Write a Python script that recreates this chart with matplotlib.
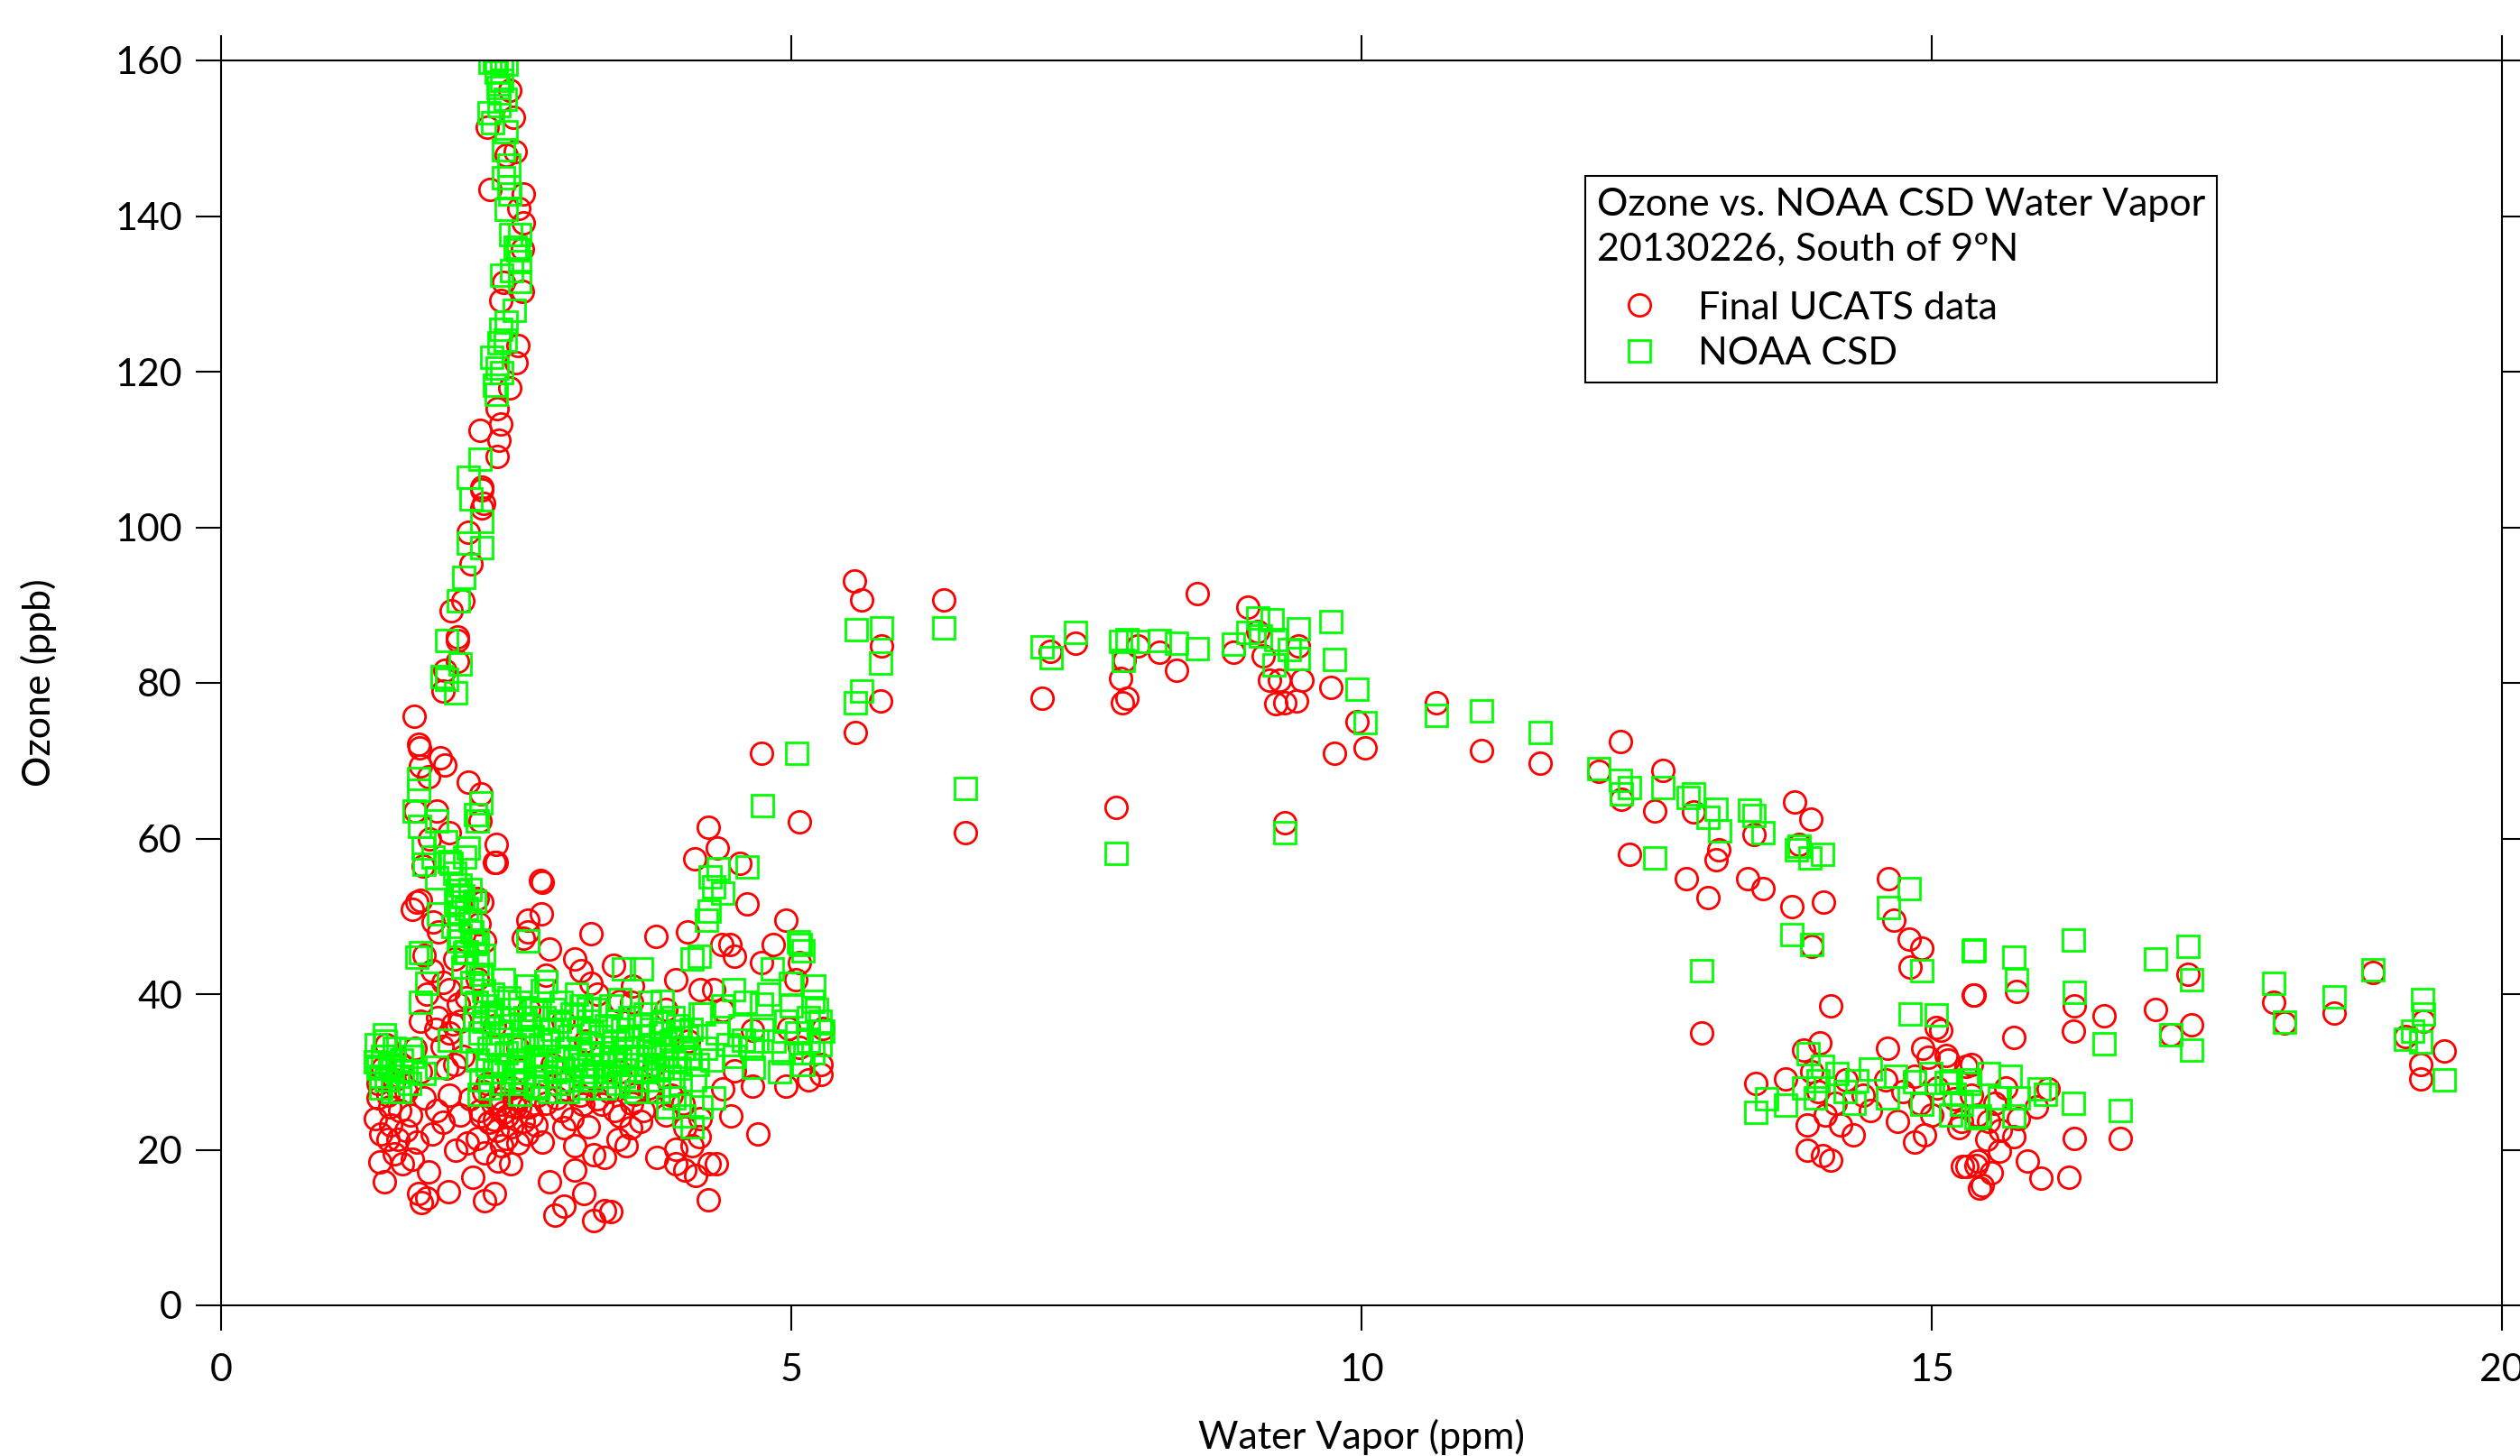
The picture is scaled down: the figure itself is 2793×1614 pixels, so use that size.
import numpy as np
import matplotlib
matplotlib.use("Agg")
import matplotlib.pyplot as plt

plt.rcParams["font.family"] = ["Lato", "DejaVu Sans"]

# ---- Final UCATS data (water vapor ppm, ozone ppb) ----
ucats_spike = [
    (2.53, 156.2), (2.56, 152.7), (2.33, 151.4), (2.58, 148.3), (2.50, 147.8), (2.36, 143.4),
    (2.65, 142.8), (2.61, 141.0), (2.65, 139.1), (2.64, 135.8), (2.48, 131.5), (2.45, 129.2),
    (2.64, 130.3), (2.60, 123.4), (2.59, 121.2), (2.53, 117.9), (2.42, 115.2), (2.27, 112.5),
    (2.45, 113.3), (2.44, 111.2), (2.42, 109.1), (2.29, 105.2), (2.30, 103.1),
    (2.29, 104.8), (2.29, 102.5), (2.17, 99.4), (2.19, 95.3), (2.12, 90.5), (2.02, 89.3),
    (2.07, 85.9), (2.07, 85.5), (2.07, 82.8), (1.96, 81.6), (1.95, 78.9), (1.69, 75.7),
    (1.73, 72.1), (1.74, 71.6), (1.92, 70.4), (1.96, 69.5), (1.75, 69.3), (1.82, 67.9),
    (2.17, 67.3), (2.28, 65.7), (2.27, 62.3), (1.89, 63.5), (1.70, 63.5), (2.00, 60.8),
    (2.41, 59.2), (2.40, 56.9), (1.77, 56.5), (1.83, 60.0), (2.82, 54.4), (1.75, 52.1),
    (2.25, 52.3),
]
ucats_low = [
    (2.41, 56.9), (2.80, 54.6), (2.81, 50.3), (2.69, 49.5), (2.69, 48.0), (2.88, 45.8),
    (3.24, 47.8), (3.81, 47.4), (4.15, 57.4), (4.61, 51.6), (4.95, 49.5), (4.09, 48.0),
    (4.39, 46.4), (4.50, 44.9), (4.84, 46.4), (4.74, 44.1), (5.07, 44.1), (5.04, 41.8),
    (4.20, 40.6), (3.99, 41.8), (4.40, 37.9), (4.98, 35.6), (5.28, 35.6), (4.66, 35.4),
    (4.32, 40.6), (4.46, 46.4),
    (1.72, 51.8), (1.68, 50.9), (1.86, 49.3), (2.29, 51.8), (2.26, 49.1), (2.31, 46.8),
    (1.91, 48.0), (2.00, 40.6), (2.03, 36.2), (2.08, 38.7), (1.94, 33.3), (2.65, 47.2),
    (2.85, 42.4), (3.10, 44.5), (3.16, 43.0), (3.24, 41.4), (3.44, 43.7), (3.50, 39.1),
    (3.61, 41.0),
    (1.38, 26.7), (1.35, 24.0), (1.49, 23.2), (1.57, 25.1), (1.46, 21.3), (1.55, 21.3),
    (1.39, 18.4), (1.43, 15.9), (1.59, 18.2), (1.68, 18.8), (1.82, 17.2), (1.89, 25.1),
    (1.78, 26.7), (1.73, 14.4), (1.80, 13.8), (1.76, 13.2), (1.99, 14.6), (2.06, 19.9),
    (2.16, 20.9), (2.21, 16.5), (2.31, 13.4), (2.40, 14.4), (2.31, 19.6), (2.43, 18.6),
    (2.54, 18.2), (2.60, 20.9), (2.28, 24.3), (2.40, 23.9), (2.51, 24.3), (2.65, 23.6),
    (2.76, 23.2), (2.88, 15.9), (2.93, 11.6), (3.01, 12.8), (3.10, 17.4), (3.18, 14.4),
    (3.27, 10.9), (3.36, 12.2), (3.42, 12.1), (3.01, 22.8), (3.10, 20.5), (3.27, 19.4),
    (3.36, 19.0), (3.48, 21.3), (3.55, 20.5), (3.59, 22.8), (3.50, 24.3), (3.68, 23.6),
    (3.82, 19.0), (3.99, 18.2), (4.07, 17.4), (4.16, 16.7), (4.27, 13.6), (3.99, 20.1),
    (4.13, 20.5), (4.19, 21.7), (4.28, 18.2), (4.34, 18.2), (4.07, 22.8), (4.47, 24.3),
    (4.71, 22.0), (4.40, 27.8), (4.66, 28.2), (4.95, 28.2), (5.15, 29.0), (5.26, 29.7),
    (4.50, 30.1), (3.76, 27.5), (3.62, 27.1), (3.34, 25.9), (3.17, 25.9), (2.94, 26.7),
    (2.72, 24.3), (2.58, 25.5), (2.45, 25.9), (2.27, 25.1),
    (2.30, 27.5), (2.45, 26.5), (2.55, 28.0), (2.70, 25.5), (2.85, 26.0), (3.00, 28.5),
    (3.15, 27.0), (3.30, 26.5), (3.45, 25.0), (3.60, 26.0), (3.75, 28.0), (3.90, 24.5),
    (4.05, 26.0), (2.60, 33.0), (2.90, 31.0), (3.20, 34.0), (3.50, 30.0), (3.80, 31.0),
    (2.40, 36.0), (2.70, 38.0), (3.00, 36.5), (3.30, 40.0), (3.60, 39.0), (3.90, 38.0),
    (4.10, 34.0), (2.35, 23.5), (2.42, 22.5), (2.48, 24.8), (2.55, 23.0), (2.62, 25.5),
    (2.38, 26.0), (2.50, 21.5),
    (1.38, 28.5), (1.42, 30.5), (1.46, 27.0), (1.52, 29.0), (1.58, 31.0), (1.62, 27.5),
    (1.70, 33.0), (1.45, 33.5), (1.75, 30.0),
    (1.78, 45.0), (1.85, 43.0), (1.95, 41.5), (2.05, 44.5), (2.15, 39.5), (2.25, 42.0),
    (1.90, 37.0), (2.00, 35.0), (2.10, 36.5), (1.80, 40.0),
    (4.27, 61.5), (4.35, 58.8), (4.55, 56.8), (4.74, 70.9), (5.07, 33.2), (5.26, 31.0),
    (1.40, 22.0), (1.48, 25.5), (1.52, 19.5), (1.62, 22.5), (1.66, 24.5), (1.72, 21.0),
    (1.85, 22.0), (1.95, 23.5), (2.00, 27.0), (2.10, 24.5), (2.18, 26.5), (2.25, 21.5),
    (2.33, 28.5), (2.46, 20.5), (2.58, 26.5), (2.68, 22.0), (2.78, 27.0), (2.82, 21.0),
    (2.98, 25.0), (3.08, 24.0), (3.22, 23.0), (3.40, 27.5), (3.70, 25.0), (3.95, 27.0),
    (4.20, 24.0), (1.98, 30.5), (2.12, 32.0), (1.88, 35.5), (1.75, 36.5), (2.05, 31.0),
]
ucats_mid = [
    (5.55, 93.1), (5.62, 90.7), (6.34, 90.7), (5.79, 84.7), (5.78, 77.7), (5.56, 73.6),
    (5.07, 62.2), (6.53, 60.7), (7.20, 78.0), (7.27, 84.1), (7.49, 85.1), (7.89, 80.6),
    (7.90, 77.5), (7.94, 78.0), (7.92, 82.9), (8.04, 84.7), (8.23, 83.9), (8.38, 81.6),
    (8.56, 91.5), (9.00, 89.7), (9.09, 86.6), (9.14, 83.5), (9.19, 80.4), (9.28, 80.4),
    (9.25, 77.3), (9.33, 77.5), (9.43, 77.7), (9.48, 80.4), (9.45, 84.7), (8.88, 83.9),
    (9.73, 79.4), (9.96, 75.0), (9.76, 70.9), (10.03, 71.6), (7.85, 64.0), (9.33, 62.0),
]
ucats_high = [
    (10.66, 77.4), (11.05, 71.3), (11.57, 69.7), (12.27, 72.5), (12.08, 68.6), (12.28, 65.1),
    (12.64, 68.8), (12.57, 63.5), (12.91, 63.4), (13.13, 58.6), (13.11, 57.3), (12.35, 58.0),
    (12.85, 54.8), (13.04, 52.4), (13.39, 54.8), (13.52, 53.6), (13.77, 51.3), (14.05, 51.8),
    (13.80, 64.7), (13.94, 62.5), (13.84, 59.3), (13.44, 60.5), (12.98, 35.0), (14.62, 54.8),
    (14.67, 49.5), (14.80, 47.1), (14.91, 45.9), (14.81, 43.5), (15.36, 39.9), (13.95, 46.1),
    (14.11, 38.5), (14.02, 33.7), (13.88, 32.8), (14.61, 33.1), (14.92, 33.1), (15.04, 35.7),
    (13.46, 28.5), (13.72, 29.1), (13.91, 23.2), (13.91, 20.0), (14.11, 18.7), (14.04, 19.3),
    (14.31, 21.9), (14.20, 23.2), (14.07, 24.5), (14.46, 25.0), (14.70, 23.6), (14.85, 21.0),
    (14.94, 21.9), (15.24, 22.8), (15.27, 17.8), (15.39, 18.0), (15.44, 15.4), (15.30, 30.7),
    (15.14, 31.5), (14.97, 31.9),
    (15.37, 39.9), (15.74, 40.4), (15.72, 34.4), (16.25, 38.5), (16.24, 35.3), (16.51, 37.2),
    (16.96, 38.0), (17.25, 42.6), (17.28, 36.1), (17.10, 34.8), (18.00, 38.9), (18.09, 36.3),
    (18.53, 37.6), (18.87, 42.8), (19.31, 36.5), (19.15, 34.6), (19.49, 32.7), (19.29, 31.0),
    (19.29, 29.1), (16.25, 21.5), (16.65, 21.5), (16.20, 16.5), (15.96, 16.4), (15.84, 18.6),
    (15.42, 15.1), (15.31, 17.8), (16.02, 27.8), (15.08, 35.4),
    (15.13, 32.1), (15.35, 30.9), (15.26, 23.6), (15.48, 21.3), (15.72, 21.7), (15.59, 19.8),
    (15.40, 18.6), (15.52, 17.1), (15.92, 25.5), (15.76, 24.0), (15.50, 23.6),
    (14.75, 27.5), (14.90, 26.0), (15.05, 28.0), (15.20, 26.5), (15.35, 27.0), (15.55, 26.0),
    (15.65, 28.0), (14.60, 29.0), (14.85, 29.5), (15.00, 24.5), (15.40, 24.5), (15.60, 22.5),
    (14.40, 27.0), (14.15, 26.0), (14.00, 27.5), (14.25, 29.0), (13.95, 30.0),
]

# ---- NOAA CSD ----
csd_spike = [
    (2.36, 159.8), (2.46, 159.7), (2.41, 158.5), (2.46, 157.4), (2.44, 155.8), (2.35, 153.3),
    (2.44, 154.2), (2.49, 155.0), (2.50, 150.8), (2.48, 148.5), (2.48, 144.9), (2.52, 143.8),
    (2.53, 142.8), (2.50, 140.9), (2.54, 137.6), (2.62, 137.6), (2.60, 135.7), (2.62, 134.1),
    (2.46, 132.4), (2.62, 131.6), (2.57, 127.9), (2.50, 126.4), (2.49, 124.1), (2.44, 123.7),
    (2.37, 121.8), (2.46, 119.9), (2.40, 118.3), (2.41, 117.1), (2.27, 108.7), (2.17, 106.4),
    (2.19, 103.7), (2.40, 160.0), (2.50, 159.5), (2.43, 156.5), (2.38, 152.0), (2.52, 146.5),
    (2.58, 136.0), (2.55, 133.0), (2.45, 125.5), (2.42, 120.5),
    (2.29, 100.7), (2.17, 98.0), (2.29, 97.4), (2.13, 93.6), (2.08, 90.5), (1.98, 85.4),
    (2.10, 82.4), (1.94, 80.8), (1.98, 80.5), (2.06, 78.7), (1.73, 67.7), (1.73, 66.2),
    (1.69, 63.5), (2.28, 64.6), (2.23, 63.1), (2.25, 62.3), (1.74, 61.6), (1.89, 62.3),
    (2.17, 58.8), (1.77, 58.8), (1.86, 57.6), (1.97, 59.6), (2.02, 56.8), (1.89, 54.9),
    (2.07, 53.3), (2.12, 52.6),
]
csd_low = [
    (1.78, 56.7), (2.00, 57.0), (2.14, 57.6), (4.36, 56.1), (4.61, 56.3), (4.32, 53.8),
    (4.40, 53.0), (4.28, 50.7), (4.26, 49.5), (1.75, 45.3), (1.75, 38.9), (1.80, 41.4),
    (1.72, 44.7), (2.69, 46.8), (2.03, 48.7), (2.08, 46.8), (2.06, 51.8), (1.91, 50.3),
    (2.14, 45.3), (2.85, 41.6), (2.48, 41.8), (3.22, 38.1), (3.53, 43.3), (3.69, 43.3),
    (3.50, 39.3), (3.76, 38.9), (3.87, 39.1), (4.13, 44.5), (4.19, 44.9), (4.23, 37.5),
    (4.49, 40.6), (4.74, 38.7), (4.83, 43.3), (5.08, 46.4), (5.10, 45.6), (4.99, 41.4),
    (5.19, 39.1), (5.28, 35.2), (5.19, 32.5), (5.08, 32.5), (4.93, 32.5), (4.67, 30.6),
    (4.58, 34.1), (1.43, 34.8), (1.35, 31.3), (1.40, 29.4), (1.50, 30.6), (1.57, 27.5),
    (1.66, 32.9), (1.78, 29.8), (2.00, 34.1), (1.89, 30.6), (2.26, 27.1), (2.62, 27.1),
    (2.75, 28.2), (3.04, 27.5), (3.24, 29.0), (3.59, 28.2), (3.87, 30.6), (3.97, 26.7),
    (4.06, 24.4), (4.13, 22.9), (4.21, 25.5), (4.32, 26.7), (3.92, 25.5), (3.80, 32.5),
    (4.03, 35.2), (4.08, 34.4), (4.20, 37.5),
    (2.20, 34.0), (2.25, 31.5), (2.30, 36.5), (2.35, 33.0), (2.40, 30.0), (2.45, 35.0),
    (2.50, 32.5), (2.55, 38.0), (2.60, 30.5), (2.65, 34.0), (2.70, 36.0), (2.75, 31.0),
    (2.80, 33.5), (2.85, 29.5), (2.90, 35.5), (2.95, 32.0), (3.00, 30.5), (3.05, 34.5),
    (3.10, 31.5), (3.15, 33.0), (3.20, 29.5), (3.25, 35.0), (3.30, 31.0), (3.35, 32.5),
    (3.40, 30.0), (3.45, 34.0), (3.50, 31.5), (3.55, 33.0), (3.60, 29.0), (3.65, 32.0),
    (3.70, 34.5), (3.75, 31.0), (3.80, 33.5), (3.85, 35.0), (3.90, 32.0), (3.95, 34.0),
    (4.00, 36.0), (4.05, 33.0), (2.32, 38.5), (2.48, 28.5), (2.62, 39.0), (2.78, 28.0),
    (2.92, 38.0), (3.08, 37.5), (3.22, 36.5), (3.38, 36.0), (3.52, 35.5), (2.28, 29.0),
    (2.58, 29.0), (2.88, 27.5), (3.18, 28.0), (3.48, 28.5), (3.78, 29.0), (2.38, 40.0),
    (2.52, 39.5), (2.68, 41.0), (2.82, 40.5), (2.98, 39.0), (3.12, 40.0), (3.28, 38.0),
    (3.42, 38.5), (3.58, 37.0), (3.72, 37.5), (3.88, 36.5), (4.02, 30.5), (4.10, 32.0),
    (4.15, 29.0),
    (1.38, 30.5), (1.42, 32.0), (1.45, 29.0), (1.48, 31.0), (1.52, 33.0), (1.55, 29.5),
    (1.58, 31.5), (1.62, 30.0), (1.40, 28.0), (1.50, 27.5), (1.65, 28.5), (1.68, 32.0),
    (1.36, 33.5), (1.44, 34.0),
    (2.05, 55.5), (2.10, 54.0), (2.12, 52.5), (2.15, 51.0), (2.18, 49.5), (2.20, 48.0),
    (2.22, 46.5), (2.10, 47.5), (2.15, 45.5), (2.25, 44.0), (2.28, 42.5), (2.20, 41.5),
    (2.30, 40.5), (2.18, 53.5), (2.08, 50.5), (2.22, 52.0), (2.25, 47.0), (2.30, 45.0),
    (2.12, 43.5),
    (4.29, 55.1), (4.75, 64.2), (5.05, 70.9), (5.06, 46.7), (5.22, 38.0), (5.25, 36.5),
    (5.15, 34.0),
]
csd_core = [
    (2.22, 37.0), (2.27, 35.0), (2.33, 31.0), (2.37, 37.5), (2.42, 33.5), (2.47, 31.0),
    (2.53, 36.0), (2.57, 33.5), (2.63, 31.5), (2.67, 37.0), (2.73, 34.5), (2.77, 32.0),
    (2.83, 37.0), (2.87, 34.0), (2.93, 30.0), (2.97, 36.5), (3.03, 33.0), (3.07, 29.0),
    (3.13, 35.5), (3.17, 31.0), (3.23, 32.5), (3.27, 30.0), (3.33, 34.5), (3.37, 29.5),
    (3.43, 32.0), (3.47, 36.5), (3.53, 29.5), (3.57, 34.5), (3.63, 31.0), (3.67, 36.0),
    (3.73, 30.0), (3.77, 35.5), (3.83, 30.5), (3.87, 33.0), (3.93, 29.5), (3.97, 31.5),
    (4.03, 28.5), (2.24, 39.0), (2.36, 28.0), (2.56, 30.0), (2.76, 38.0), (2.96, 28.5),
    (3.16, 38.5), (3.36, 28.0), (3.56, 32.0), (3.76, 33.5), (3.96, 37.0), (2.44, 37.0),
    (2.64, 28.5), (2.84, 31.5), (3.04, 32.0), (3.24, 33.5), (3.44, 31.0), (3.64, 27.5),
    (3.84, 27.5), (4.12, 35.5), (4.18, 31.0), (4.25, 33.0), (4.35, 35.0), (4.45, 33.5),
    (4.55, 36.0), (4.65, 33.0), (4.75, 35.5), (4.85, 34.0), (4.95, 36.5), (5.05, 35.0),
    (5.15, 37.0), (4.40, 38.5), (4.60, 39.0), (4.80, 40.0), (5.00, 38.5), (5.20, 41.0),
    (4.30, 31.5), (4.50, 32.0), (4.70, 34.0), (4.90, 30.0), (5.10, 31.0), (5.25, 33.5),
]
csd_mid = [
    (5.57, 86.8), (5.79, 87.1), (6.34, 87.1), (5.78, 82.6), (5.62, 78.9), (5.56, 77.5),
    (6.53, 66.4), (7.20, 84.6), (7.28, 83.2), (7.49, 86.5), (7.89, 85.3), (7.94, 85.6),
    (7.91, 82.9), (8.04, 85.3), (8.23, 85.5), (8.38, 85.1), (8.56, 84.4), (8.88, 85.0),
    (9.00, 86.5), (9.09, 88.3), (9.22, 88.1), (9.11, 86.0), (9.25, 85.6), (9.45, 87.0),
    (9.45, 83.1), (9.23, 82.3), (9.37, 84.3), (9.73, 87.9), (9.76, 83.0), (9.96, 79.2),
    (10.03, 74.9), (7.85, 58.1), (9.33, 60.7),
]
csd_high = [
    (10.66, 75.8), (11.05, 76.45), (11.57, 73.6), (12.08, 69.0), (12.27, 67.5), (12.35, 66.6),
    (12.28, 65.7), (12.64, 66.5), (12.86, 65.3), (12.91, 65.7), (13.11, 63.8), (13.04, 62.7),
    (13.14, 61.0), (13.40, 63.6), (13.44, 63.0), (13.52, 60.7), (13.81, 58.6), (13.84, 59.0),
    (14.04, 58.0), (13.93, 57.5), (12.57, 57.5), (13.77, 47.7), (13.95, 46.4), (12.98, 43.0),
    (14.80, 53.6), (14.62, 51.1), (14.91, 43.0), (15.36, 45.6), (14.81, 37.4), (15.04, 37.3),
    (13.92, 32.4), (14.04, 30.7), (14.17, 29.8), (14.34, 28.9), (14.46, 30.4), (14.68, 29.5),
    (14.85, 28.7), (14.99, 29.8), (15.17, 28.9), (15.33, 28.5), (14.61, 26.7), (14.91, 25.8),
    (15.17, 24.5), (15.39, 24.1), (13.88, 28.0), (13.98, 26.7), (14.32, 26.0), (13.55, 26.6),
    (13.46, 24.8), (13.72, 25.7), (14.00, 28.9), (14.24, 27.5),
    (15.37, 45.7), (15.72, 44.7), (15.74, 41.8), (16.24, 46.9), (16.25, 40.2), (16.51, 33.6),
    (16.96, 44.5), (17.25, 46.2), (17.28, 41.9), (17.10, 34.8), (17.28, 32.8), (18.00, 41.4),
    (18.09, 36.4), (18.53, 39.6), (18.87, 43.1), (19.30, 39.3), (19.31, 37.5), (19.22, 35.2),
    (19.15, 34.2), (19.29, 33.8), (19.49, 29.0), (16.65, 25.1), (16.24, 26.0),
    (15.13, 28.6), (15.33, 29.0), (15.50, 29.8), (15.69, 29.4), (15.26, 25.9), (15.42, 24.4),
    (15.72, 24.4), (15.94, 27.8), (16.00, 27.1), (15.59, 26.7), (15.76, 26.7), (15.20, 27.1),
]

ucats = np.array(ucats_spike + ucats_low + ucats_mid + ucats_high)
csd = np.array(csd_spike + csd_low + csd_core + csd_mid + csd_high)

fig = plt.figure(figsize=(27.93, 16.14), dpi=100)
ax = fig.add_axes([245 / 2793, 1 - 1447 / 1614, (2773 - 245) / 2793, (1447 - 67) / 1614])

ax.plot(ucats[:, 0], ucats[:, 1], linestyle="none", marker="o", markersize=17.5,
        markerfacecolor="none", markeredgecolor="#ff0000", markeredgewidth=2.0,
        label="Final UCATS data")
ax.plot(csd[:, 0], csd[:, 1], linestyle="none", marker="s", markersize=17,
        markerfacecolor="none", markeredgecolor="#00ff00", markeredgewidth=2.0,
        label="NOAA CSD")

ax.set_xlim(0, 20)
ax.set_ylim(0, 160)
ax.set_xticks([0, 5, 10, 15, 20])
ax.set_yticks(np.arange(0, 161, 20))
for s in ax.spines.values():
    s.set_linewidth(1.5)
ax.tick_params(which="major", direction="out", length=20, width=1.5,
               labelsize=31, top=True, right=True)
ax.tick_params(axis="x", pad=18)
ax.tick_params(axis="y", pad=11)

ax.set_xlabel("Water Vapor (ppm)", fontsize=31, labelpad=25)
ax.set_ylabel("Ozone (ppb)", fontsize=31, labelpad=46)

leg = ax.legend(title="Ozone vs. NOAA CSD Water Vapor\n20130226, South of 9ºN",
                loc="upper left", bbox_to_anchor=(1757 / 2793, 1 - 195 / 1614),
                bbox_transform=fig.transFigure, fontsize=31, title_fontsize=31,
                frameon=True, fancybox=False, edgecolor="black", framealpha=1,
                alignment="left", borderpad=0.3, handlelength=2.2, handletextpad=0.4,
                labelspacing=0.3, borderaxespad=0)
leg.get_title().set_linespacing(1.38)
leg._legend_box.sep = 0.3 * 31 + 10
leg.get_frame().set_linewidth(1.5)

fig.savefig("out.png", dpi=100)
